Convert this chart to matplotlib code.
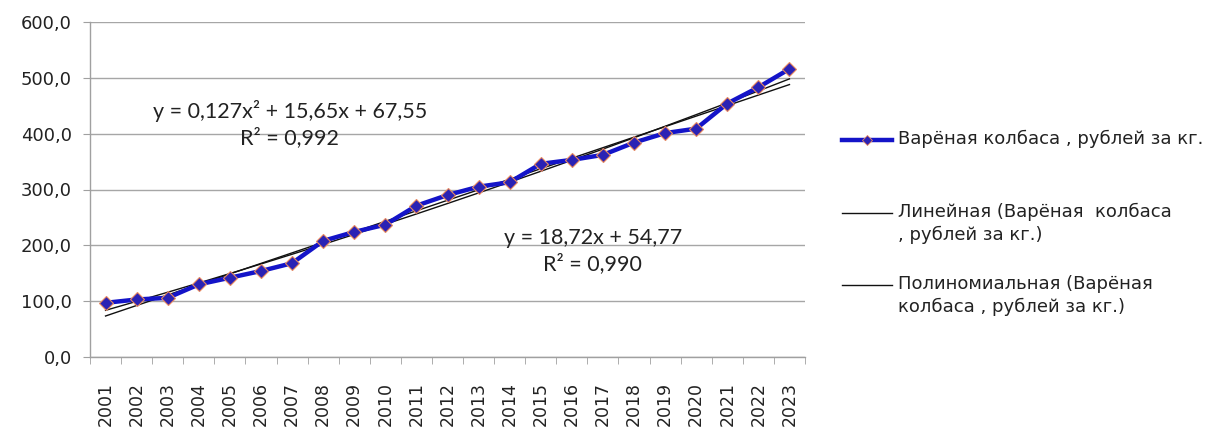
import matplotlib
matplotlib.use("Agg")
import matplotlib.pyplot as plt
from matplotlib.lines import Line2D
import numpy as np

plt.rcParams['font.family'] = ['DejaVu Sans']

years = ['2001', '2002', '2003', '2004', '2005', '2006', '2007', '2008',
         '2009', '2010', '2011', '2012', '2013', '2014', '2015', '2016',
         '2017', '2018', '2019', '2020', '2021', '2022', '2023']
prices = [97, 103, 106, 130, 142, 154, 168, 208, 224, 237, 271, 290,
          305, 313, 346, 353, 362, 384, 401, 409, 454, 483, 516]
y_ticks = [0, 100, 200, 300, 400, 500, 600]

series_label = 'Варёная колбаса , рублей за кг.'
lin_label = 'Линейная (Варёная  колбаса\n, рублей за кг.)'
poly_label = 'Полиномиальная (Варёная\nколбаса , рублей за кг.)'
poly_eq = 'y = 0,127x² + 15,65x + 67,55\nR² = 0,992'
lin_eq = 'y = 18,72x + 54,77\nR² = 0,990'

W, H = 1229, 429
fig = plt.figure(figsize=(W / 100, H / 100), dpi=100)
ax = fig.add_axes([90 / W, 1 - 357 / H, 715 / W, 335 / H])

x = np.arange(1, len(years) + 1)
y = np.array(prices, dtype=float)

# trendlines (Excel style)
lin = np.polyfit(x, y, 1)
poly = np.polyfit(x, y, 2)
ax.plot(x, np.polyval(lin, x), color='#111111', lw=1.0, zorder=3)
ax.plot(x, np.polyval(poly, x), color='#111111', lw=1.0, zorder=3)

blue = '#1414C8'
ax.plot(x, y, color=blue, lw=3.2, marker='D', markersize=7,
        markerfacecolor='#2A22B4', markeredgecolor='#E8885E',
        markeredgewidth=0.8, zorder=4)

ax.set_xlim(0.5, len(years) + 0.5)
ax.set_ylim(0, 600)
ax.set_yticks(y_ticks)
ax.set_yticklabels([f'{v:.1f}'.replace('.', ',') for v in y_ticks])
ax.set_xticks(x)
ax.set_xticklabels(years, rotation=90)
ax.set_xticks(np.arange(0.5, len(years) + 1, 1), minor=True)
ax.tick_params(axis='x', which='major', length=0, pad=18, labelsize=12.5,
               labelcolor='#222222')
ax.tick_params(axis='x', which='minor', length=5, color='#A0A0A0')
ax.tick_params(axis='y', length=5, color='#A0A0A0', labelsize=13,
               labelcolor='#222222', pad=8)

ax.grid(axis='y', color='#A6A6A6', lw=1.0)
ax.set_axisbelow(True)
for s in ['top', 'right']:
    ax.spines[s].set_visible(False)
for s in ['left', 'bottom']:
    ax.spines[s].set_color('#A0A0A0')
    ax.spines[s].set_linewidth(1.0)

ax.text(6.93, 418, poly_eq, ha='center', va='center', fontsize=15.5,
        family='Lato', color='#222222', linespacing=1.3, zorder=5)
ax.text(16.67, 190, lin_eq, ha='center', va='center', fontsize=15.5,
        family='Lato', color='#222222', linespacing=1.3, zorder=5)

# legend drawn at the right
hx0, hx1, tx = 842 / W, 892 / W, 898 / W
entries = [
    (140, series_label, dict(color=blue, lw=3.2, marker='D', markersize=5,
                              markevery=[1], markerfacecolor='#2A22B4',
                              markeredgecolor='#E8885E', markeredgewidth=0.6)),
    (213, lin_label, dict(color='#111111', lw=1.0)),
    (285, poly_label, dict(color='#111111', lw=1.0)),
]
for ypx, label, style in entries:
    yf = 1 - ypx / H
    fig.add_artist(Line2D([hx0, (hx0 + hx1) / 2, hx1], [yf, yf, yf],
                          transform=fig.transFigure, **style))
    fig.text(tx, 1 - (ypx - 10) / H, label, ha='left', va='top',
             fontsize=13, color='#222222', linespacing=1.3)

fig.savefig('out.png', dpi=100)
